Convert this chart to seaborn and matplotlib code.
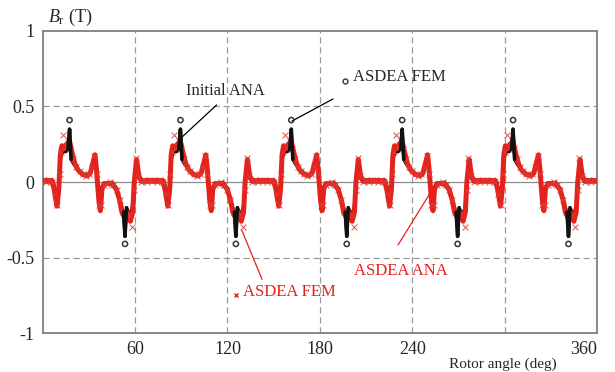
import matplotlib
matplotlib.use("Agg")
import numpy as np
import pandas as pd
import matplotlib.pyplot as plt
import seaborn as sns

# start angle of each pole pair (deg), read from the peak positions
pole_start = [0, 72, 144, 216, 288]

# one pole pair, angle from pole start (deg) and B_r (T)
# initial analytical model (black)
ini_u = [0, 7, 8.5, 9.5, 10.5, 11.5, 13, 15, 16.5, 17.5, 18.5, 20, 23, 27, 31,
         33.5, 35, 37, 38.5, 45, 48, 51, 52.5, 53.5, 54.5, 57, 59, 60.5, 62, 64, 71.9]
ini_b = [0, 0, -0.06, -0.13, -0.02, 0.15, 0.2, 0.2, 0.22, 0.35, 0.15, 0.12, 0.08, 0.05, 0.05,
         0.16, 0.06, -0.16, -0.03, 0, -0.04, -0.15, -0.2, -0.36, -0.17, -0.22, -0.13, 0.13, 0.03, 0, 0]

# ASDEA analytical model (red line)
ana_u = [0, 6, 7.5, 9.3, 10.5, 11.5, 12.5, 14, 15.5, 17.5, 19, 21, 23, 26, 29, 31, 32.5, 34,
         35, 36.5, 37.5, 38.5, 40, 45, 48, 50, 51.5, 53.5, 55, 57, 58.5, 59.5, 61, 62.5, 64, 71.9]
ana_b = [0.01, 0.01, -0.05, -0.16, -0.05, 0.18, 0.24, 0.22, 0.25, 0.27, 0.2, 0.12, 0.08, 0.05,
         0.04, 0.06, 0.12, 0.18, 0.08, -0.12, -0.19, -0.05, -0.01, -0.01, -0.05, -0.12, -0.2,
         -0.24, -0.2, -0.26, -0.2, 0.0, 0.15, 0.04, 0.01, 0.01]

# ASDEA FEM (red crosses)
fem_u = [0, 2, 4, 6, 8, 9.5, 11, 12, 13.5, 15, 16.5, 18, 20, 22, 24, 26, 28, 30, 32, 33.5,
         35, 36.5, 38, 40, 42, 44, 46, 48, 50, 52, 54, 56, 58, 59.5, 60.5, 62, 64, 66, 68, 70]
fem_b = [0.01, 0.0, 0.01, 0.0, -0.08, -0.15, 0.05, 0.2, 0.31, 0.24, 0.27, 0.22, 0.15, 0.1,
         0.07, 0.05, 0.04, 0.05, 0.1, 0.17, 0.05, -0.15, -0.15, -0.02, -0.01, 0.0, -0.02,
         -0.05, -0.12, -0.2, -0.22, -0.22, -0.3, -0.05, 0.16, 0.04, 0.0, 0.01, 0.0, 0.01]

# ASDEA FEM (black circles, seen at the peaks)
femc_u = [17.5, 53.5]
femc_b = [0.41, -0.41]


def spread(u, b, name):
    rows = []
    for k, s in enumerate(pole_start):
        for uu, bb in zip(u, b):
            rows.append({"angle": s + uu, "Br": bb, "curve": name, "pole": k})
    return pd.DataFrame(rows)


ini = spread(ini_u, ini_b, "Initial ANA")
ana = spread(ana_u, ana_b, "ASDEA ANA")
fem = spread(fem_u, fem_b, "ASDEA FEM x")
femc = spread(femc_u, femc_b, "ASDEA FEM o")

# black peak spikes stand out over the red band
rel = ini["angle"] - np.array(pole_start)[ini["pole"]]
spike = ini[rel.between(16.4, 18.6) | rel.between(52.4, 54.6)].copy()
spike["seg"] = spike["pole"] * 2 + (rel[spike.index] > 30)

sns.set_style("white")
plt.rcParams["font.family"] = ["Liberation Serif", "DejaVu Serif"]
plt.rcParams["mathtext.fontset"] = "custom"
plt.rcParams["mathtext.rm"] = "Liberation Serif"
plt.rcParams["mathtext.it"] = "Liberation Serif:italic"

red = "#e4221c"

fig = plt.figure(figsize=(6.15, 3.72), dpi=100)
ax = fig.add_axes([0.0693, 0.1048, 0.9014, 0.8119])

# grid and zero line
for x in [60, 120, 180, 240, 300]:
    ax.axvline(x, color="#999999", lw=0.9, ls=(0, (5, 3)), zorder=1)
for y in [-0.5, 0.5]:
    ax.axhline(y, color="#999999", lw=0.9, ls=(0, (5, 3)), zorder=1)
ax.axhline(0, color="#8c8c8c", lw=0.9, zorder=1)

sns.lineplot(data=ini, x="angle", y="Br", color="#111111", lw=2.2, sort=False,
             estimator=None, ax=ax, zorder=2)
sns.lineplot(data=ana, x="angle", y="Br", color=red, lw=3.6, sort=False,
             estimator=None, ax=ax, zorder=3)
sns.scatterplot(data=fem, x="angle", y="Br", marker="x", color="#e03a34", s=18,
                linewidth=0.75, alpha=0.85, ax=ax, zorder=4)
sns.lineplot(data=spike, x="angle", y="Br", units="seg", color="#111111", lw=2.6,
             sort=False, estimator=None, ax=ax, zorder=5)
sns.scatterplot(data=femc, x="angle", y="Br", marker="o", facecolor="none",
                edgecolor="#333333", s=14, linewidth=1.1, ax=ax, zorder=6)

ax.set_xlim(0, 360)
ax.set_ylim(-1, 1)
ax.set_xticks([60, 120, 180, 240, 300, 360])
ax.set_xticklabels(["60", "120", "180", "240", "", "360"])
ax.get_xticklabels()[-1].set_horizontalalignment("right")
ax.set_yticks([-1, -0.5, 0, 0.5, 1])
ax.set_yticklabels(["-1", "-0.5", "0", "0.5", "1"])
ax.tick_params(length=0, labelsize=13, pad=6)
ax.set_xlabel("")
ax.set_ylabel("")
for sp in ax.spines.values():
    sp.set_color("#7f7f7f")
    sp.set_linewidth(1.3)

ax.text(0.01, 1.01, r"$B_{\mathrm{r}}$ (T)", transform=ax.transAxes, fontsize=13,
        ha="left", va="bottom")
ax.text(0.83, -0.105, "Rotor angle (deg)", transform=ax.transAxes, fontsize=11,
        ha="center", va="center")

line = dict(arrowstyle="-", shrinkA=0, shrinkB=0, lw=0.9)
# Initial ANA label
ax.text(119, 0.60, "Initial ANA", fontsize=12, ha="center", va="center")
ax.annotate("", xy=(89.7, 0.29), xytext=(113, 0.51), arrowprops=dict(line, color="black"))
# ASDEA FEM (circles) label
ax.plot([196.4], [0.672], marker="o", ms=3.5, mfc="none", mec="#333333", mew=1.0)
ax.text(201.6, 0.692, "ASDEA FEM", fontsize=12, ha="left", va="center")
ax.annotate("", xy=(162, 0.404), xytext=(188.6, 0.55), arrowprops=dict(line, color="black"))
# ASDEA ANA label
ax.text(232.7, -0.59, "ASDEA ANA", fontsize=12, ha="center", va="center", color=red)
ax.annotate("", xy=(250.9, -0.086), xytext=(230.8, -0.417), arrowprops=dict(line, color=red))
# ASDEA FEM (crosses) label
ax.plot([125.9], [-0.745], marker="x", ms=3.5, color=red, mew=1.0)
ax.text(130.1, -0.73, "ASDEA FEM", fontsize=12, ha="left", va="center", color=red)
ax.annotate("", xy=(129.3, -0.318), xytext=(142.5, -0.645), arrowprops=dict(line, color=red))

fig.savefig("out.png", dpi=100)
